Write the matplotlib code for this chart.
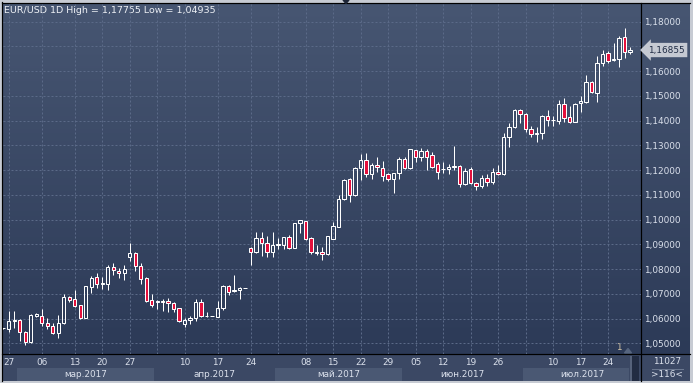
import matplotlib
matplotlib.use('Agg')
import matplotlib.pyplot as plt
import matplotlib.transforms as mtransforms
from matplotlib.patches import Rectangle, Polygon
import numpy as np

# daily EUR/USD candles, 26.02.2017 - 28.07.2017
opens = [1.0561, 1.0557, 1.0590, 1.0594, 1.0545, 1.0504, 1.0611, 1.0609, 1.0581, 1.0569,
         1.0540, 1.0581, 1.0686, 1.0678, 1.0654, 1.0604, 1.0729, 1.0768, 1.0740, 1.0740,
         1.0807, 1.0794, 1.0783, 1.0848, 1.0864, 1.0813, 1.0765, 1.0674, 1.0667, 1.0666,
         1.0671, 1.0662, 1.0641, 1.0577, 1.0594, 1.0601, 1.0667, 1.0610, 1.0612, 1.0608,
         1.0643, 1.0732, 1.0710, 1.0714, 1.0722, 1.0885, 1.0868, 1.0924, 1.0904, 1.0871,
         1.0896, 1.0896, 1.0928, 1.0887, 1.0985, 1.0995, 1.0924, 1.0867, 1.0868, 1.0861,
         1.0923, 1.0972, 1.1082, 1.1163, 1.1100, 1.1207, 1.1241, 1.1183, 1.1221, 1.1207,
         1.1183, 1.1163, 1.1187, 1.1244, 1.1210, 1.1281, 1.1254, 1.1277, 1.1261, 1.1223,
         1.1203, 1.1203, 1.1214, 1.1217, 1.1143, 1.1203, 1.1147, 1.1136, 1.1167, 1.1151,
         1.1194, 1.1185, 1.1335, 1.1376, 1.1443, 1.1426, 1.1365, 1.1345, 1.1349, 1.1420,
         1.1403, 1.1400, 1.1466, 1.1414, 1.1396, 1.1470, 1.1477, 1.1555, 1.1513, 1.1632,
         1.1672, 1.1644, 1.1648, 1.1737, 1.1676]
highs = [1.0563, 1.0631, 1.0631, 1.0597, 1.0551, 1.0617, 1.0621, 1.0639, 1.0601, 1.0581,
         1.0615, 1.0699, 1.0691, 1.0716, 1.0656, 1.0732, 1.0772, 1.0783, 1.0769, 1.0817,
         1.0823, 1.0806, 1.0817, 1.0904, 1.0870, 1.0823, 1.0769, 1.0699, 1.0675, 1.0678,
         1.0685, 1.0668, 1.0644, 1.0604, 1.0611, 1.0678, 1.0678, 1.0628, 1.0612, 1.0671,
         1.0736, 1.0736, 1.0776, 1.0729, 1.0722, 1.0888, 1.0949, 1.0949, 1.0934, 1.0949,
         1.0927, 1.0931, 1.0937, 1.0985, 1.0999, 1.0996, 1.0931, 1.0898, 1.0891, 1.0934,
         1.0992, 1.1100, 1.1163, 1.1167, 1.1211, 1.1265, 1.1268, 1.1227, 1.1252, 1.1237,
         1.1190, 1.1190, 1.1254, 1.1252, 1.1287, 1.1283, 1.1288, 1.1284, 1.1272, 1.1234,
         1.1231, 1.1225, 1.1298, 1.1221, 1.1207, 1.1214, 1.1153, 1.1181, 1.1183, 1.1208,
         1.1221, 1.1349, 1.1389, 1.1446, 1.1446, 1.1430, 1.1379, 1.1373, 1.1423, 1.1443,
         1.1420, 1.1484, 1.1490, 1.1459, 1.1470, 1.1500, 1.1585, 1.1560, 1.1661, 1.1686,
         1.1682, 1.1715, 1.1742, 1.17755, 1.1699]
lows = [1.0559, 1.0547, 1.0561, 1.0511, 1.04935, 1.0500, 1.0605, 1.0571, 1.0557, 1.0538,
        1.0520, 1.0578, 1.0668, 1.0648, 1.0597, 1.0601, 1.0705, 1.0725, 1.0720, 1.0716,
        1.0776, 1.0765, 1.0756, 1.0834, 1.0794, 1.0738, 1.0668, 1.0646, 1.0637, 1.0631,
        1.0628, 1.0628, 1.0585, 1.0567, 1.0577, 1.0592, 1.0608, 1.0605, 1.0612, 1.0605,
        1.0635, 1.0697, 1.0706, 1.0681, 1.0722, 1.0817, 1.0866, 1.0853, 1.0850, 1.0850,
        1.0883, 1.0881, 1.0881, 1.0884, 1.0945, 1.0918, 1.0861, 1.0857, 1.0837, 1.0858,
        1.0920, 1.0969, 1.1079, 1.1073, 1.1096, 1.1160, 1.1174, 1.1164, 1.1194, 1.1157,
        1.1157, 1.1109, 1.1163, 1.1203, 1.1205, 1.1234, 1.1238, 1.1201, 1.1207, 1.1166,
        1.1190, 1.1183, 1.1200, 1.1131, 1.1140, 1.1144, 1.1120, 1.1127, 1.1136, 1.1143,
        1.1181, 1.1181, 1.1292, 1.1369, 1.1392, 1.1356, 1.1335, 1.1313, 1.1326, 1.1379,
        1.1380, 1.1385, 1.1393, 1.1392, 1.1393, 1.1437, 1.1473, 1.1511, 1.1477, 1.1622,
        1.1634, 1.1640, 1.1616, 1.1652, 1.1669]
closes = [1.0561, 1.0592, 1.0594, 1.0545, 1.0504, 1.0613, 1.0617, 1.0581, 1.0569, 1.0540,
          1.0581, 1.0686, 1.0674, 1.0652, 1.0604, 1.0732, 1.0763, 1.0740, 1.0742, 1.0807,
          1.0795, 1.0783, 1.0800, 1.0864, 1.0813, 1.0761, 1.0672, 1.0654, 1.0671, 1.0671,
          1.0663, 1.0640, 1.0589, 1.0594, 1.0601, 1.0667, 1.0612, 1.0612, 1.0612, 1.0641,
          1.0732, 1.0709, 1.0716, 1.0722, 1.0722, 1.0868, 1.0924, 1.0904, 1.0871, 1.0896,
          1.0902, 1.0928, 1.0884, 1.0985, 1.0999, 1.0923, 1.0871, 1.0871, 1.0860, 1.0934,
          1.0974, 1.1083, 1.1160, 1.1100, 1.1207, 1.1241, 1.1183, 1.1221, 1.1211, 1.1178,
          1.1163, 1.1187, 1.1245, 1.1210, 1.1284, 1.1254, 1.1277, 1.1254, 1.1211, 1.1194,
          1.1203, 1.1211, 1.1217, 1.1143, 1.1197, 1.1147, 1.1136, 1.1167, 1.1151, 1.1191,
          1.1185, 1.1335, 1.1376, 1.1443, 1.1426, 1.1365, 1.1345, 1.1352, 1.1420, 1.1403,
          1.1403, 1.1466, 1.1412, 1.1396, 1.1466, 1.1480, 1.1555, 1.1515, 1.1632, 1.1668,
          1.1643, 1.1648, 1.1733, 1.1676, 1.16855]

week_idx = [1, 7, 13, 18, 23, 28, 33, 39, 45, 50, 55, 60, 65, 70, 75, 80, 85, 90, 95, 100, 105, 110]
week_labels = ['27', '06', '13', '20', '27', '', '10', '17', '24', '', '08', '15', '22', '29',
               '05', '12', '19', '26', '', '10', '17', '24']
months = ['мар.2017', 'апр.2017', 'май.2017', 'июн.2017', 'июл.2017']
month_start = [2.5, 27.5, 49.5, 72.5, 94.5]
price_levels = [1.05, 1.06, 1.07, 1.08, 1.09, 1.10, 1.11, 1.12, 1.13, 1.14, 1.15, 1.16, 1.17, 1.18]

W, H = 693, 383
PX = 0.72  # one pixel in points
txt_col = '#dbe1ec'
fs = 6.4

fig = plt.figure(figsize=(W / 100, H / 100), dpi=100)
fig.patch.set_facecolor('#c7cbd3')

# background layer in pixel coordinates
bg = fig.add_axes([0, 0, 1, 1])
bg.set_xlim(0, W)
bg.set_ylim(H, 0)
bg.axis('off')

top_c = np.array([71, 86, 114]) / 255
bot_c = np.array([44, 58, 87]) / 255
t = np.linspace(0, 1, 256)[:, None, None]
grad = top_c * (1 - t) + bot_c * t
bg.imshow(grad, extent=(2, 690, 354, 3), aspect='auto', interpolation='bilinear')
bg.add_patch(Rectangle((2, 354), 688, 27, color='#3b4864', lw=0))
bg.set_xlim(0, W)
bg.set_ylim(H, 0)

# main chart
ax = fig.add_axes([3 / W, 1 - 354 / H, 638 / W, 351 / H])
ax.patch.set_visible(False)
for s in ax.spines.values():
    s.set_visible(False)

n = len(closes)
idx = np.arange(n)
o = np.array(opens)
c = np.array(closes)
hi = np.array(highs)
lo = np.array(lows)
top = np.maximum(o, c)
bot = np.minimum(o, c)
bear = c < o

ax.vlines(idx, top, hi, color='white', lw=PX, zorder=3)
ax.vlines(idx, lo, bot, color='white', lw=PX, zorder=3)
face = ['#e4103c' if b else 'none' for b in bear]
ax.bar(idx, top - bot, bottom=bot, width=0.62, color=face, edgecolor='white',
       linewidth=PX, zorder=4)

ax.set_xlim(-0.05, 116.0)
ax.set_ylim(1.04568, 1.18756)

ax.set_xticks(week_idx)
ax.set_xticklabels(week_labels)
ax.yaxis.tick_right()
ax.set_yticks(price_levels)
ax.set_yticklabels(['' if abs(p - 1.17) < 1e-9 else f'{p:.5f}'.replace('.', ',')
                    for p in price_levels])
ax.tick_params(axis='x', length=0, pad=3.0, labelsize=fs, labelcolor=txt_col)
ax.tick_params(axis='y', length=0, pad=2.2, labelsize=fs, labelcolor=txt_col)
ax.grid(True, color='#5b6a88', linestyle=(0, (2, 2)), linewidth=PX, zorder=1)
ax.set_axisbelow(True)

# month bands under the dates
blend = mtransforms.blended_transform_factory(ax.transData, bg.transData)
month_end = month_start[1:] + [116.0]
for k, (name, a, b) in enumerate(zip(months, month_start, month_end)):
    if k % 2 == 0:
        bg.add_patch(Rectangle((a, 368.3), min(b, 113.8) - a, 12.7, transform=blend,
                               color='#4a5873', lw=0, zorder=2))
    bg.text((a + b) / 2, 374.2, name, transform=blend, ha='center', va='center',
            fontsize=fs, color=txt_col, zorder=3)

# last price marker
ytrans = mtransforms.blended_transform_factory(ax.transAxes, ax.transData)
ax.annotate(f'{closes[-1]:.5f}'.replace('.', ','), xy=(1, closes[-1]), xycoords=ytrans,
            xytext=(7, 0), textcoords='offset pixels', ha='left', va='center',
            fontsize=fs, color='#1f2b44', annotation_clip=False, zorder=6,
            bbox=dict(boxstyle='larrow,pad=0.3', fc='#c5c9d2', ec='none'))

# frame lines
lk = dict(color='black', lw=PX * 1.2, zorder=5)
bg.plot([1.5, 1.5], [2, 381], **lk)
bg.plot([1.5, 690], [2.5, 2.5], **lk)
bg.plot([641, 641], [2.5, 381], **lk)
bg.plot([1.5, 690], [354, 354], **lk)
bg.add_patch(Polygon([[343, 0], [349, 0], [346, 3.5]], color='#1c2436', zorder=6))

# scrollbar stub and counters
bg.add_patch(Rectangle((630, 356), 9, 25, color='#222c42', lw=0, zorder=4))
bg.add_patch(Rectangle((630, 356), 2, 25, color='#56627a', lw=0, zorder=4))
bg.add_patch(Polygon([[624.5, 353], [631.5, 353], [628, 348.5]], color='#56657f', zorder=4))
bg.text(619, 347.5, '1', ha='center', va='center', fontsize=fs, color='#d3c4a6', zorder=4)
bg.text(667, 361.5, '11027', ha='center', va='center', fontsize=fs, color=txt_col, zorder=4)
bg.plot([652, 683], [368.5, 368.5], color='#6b7890', lw=PX, zorder=4)
bg.text(667, 374.5, '>116<', ha='center', va='center', fontsize=fs, color=txt_col, zorder=4)

bg.text(3.5, 10.5, 'EUR/USD 1D High = 1,17755 Low = 1,04935', ha='left', va='center',
        fontsize=fs + 0.4, color='#eef1f6', zorder=6)

fig.savefig('out.png', dpi=100, facecolor=fig.get_facecolor())
